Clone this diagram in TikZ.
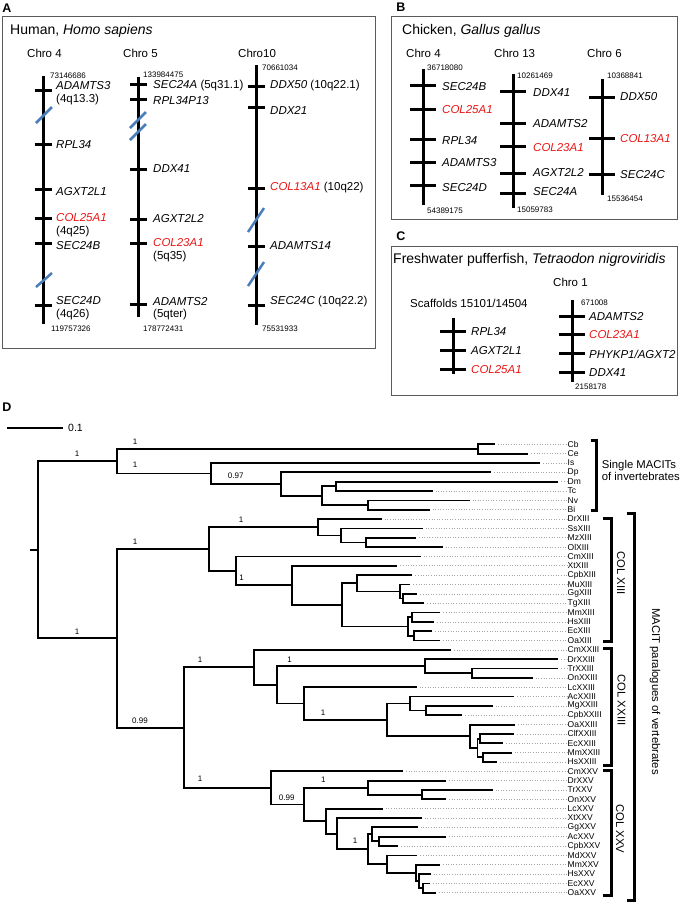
\documentclass[tikz,border=0pt]{standalone}
\usepackage{fontspec}
\setmainfont{Liberation Sans}
\definecolor{slashblue}{RGB}{74,126,187}
\definecolor{boxgray}{RGB}{90,90,90}
\definecolor{genered}{RGB}{235,20,20}
\newcommand\Tk[3]{\draw[tk] (#1-#3,#2) -- (#1+#3,#2);}
\newcommand\Tip[4]{\coordinate (#1) at (#2,#3); \node[taxon] (l#1) at (567.5,#3) {#4}; \draw[lead] ([xshift=3pt]#1) -- (l#1.west);}
\newcommand\Ed[2]{\draw[br] (#1) |- (#2);}
\begin{document}
\begin{tikzpicture}[x=1pt,y=-1pt,
  gene/.style={anchor=west, inner sep=0, font=\fontsize{11.5}{13}\selectfont\itshape},
  band/.style={anchor=west, inner sep=0, font=\fontsize{11.5}{13}\selectfont},
  num/.style={anchor=west, inner sep=0, font=\fontsize{8}{9}\selectfont},
  chrt/.style={anchor=west, inner sep=0, font=\fontsize{11.5}{13}\selectfont},
  ttl/.style={anchor=west, inner sep=0, font=\fontsize{14}{16}\selectfont},
  panel/.style={inner sep=0, font=\fontsize{12.5}{14}\selectfont\bfseries},
  chrom/.style={line width=3pt},
  tk/.style={line width=3pt},
  slash/.style={line width=2.5pt, draw=slashblue},
  box/.style={draw=boxgray, line width=1pt},
  br/.style={line width=1.8pt},
  lead/.style={draw=gray!70, dotted, line width=0.6pt},
  taxon/.style={anchor=west, inner sep=0, font=\fontsize{8.5}{9}\selectfont},
  bs/.style={inner sep=0, font=\fontsize{8}{9}\selectfont},
  brk/.style={line width=3pt},
  grp/.style={inner sep=0, font=\fontsize{11.3}{12.4}\selectfont}
]
\useasboundingbox (0,0) rectangle (685,908);

% ================= Panel A =================
\node[panel] (pA) at (7,8) {A};
\draw[box] (2,16) rectangle (375,348);
\node[ttl] (tA) at (10,31) {Human, \textit{Homo sapiens}};
\node[chrt] (c4) at (27,53) {Chro 4};
\node[chrt] (c5) at (123,53) {Chro 5};
\node[chrt] (c10) at (238,53) {Chro10};
% Chro 4
\draw[chrom] (43,76) -- (43,324);
\node[num] at (50,76) {73146686};
\Tk{43}{90}{8.5}  \node[gene] at (56,86) {ADAMTS3}; \node[band] at (56,100) {(4q13.3)};
\draw[slash] (36,123) -- (52,107);
\Tk{43}{144}{8.5} \node[gene] at (56,145) {RPL34};
\Tk{43}{189}{8.5} \node[gene] at (56,192) {AGXT2L1};
\Tk{43}{218}{8.5} \node[gene,text=genered] at (56,218) {COL25A1}; \node[band] at (56,232) {(4q25)};
\Tk{43}{243}{8.5} \node[gene] at (56,246) {SEC24B};
\draw[slash] (36,287) -- (52,273);
\Tk{43}{305}{8.5} \node[gene] at (56,301) {SEC24D}; \node[band] at (56,315) {(4q26)};
\node[num] at (51,329) {119757326};
% Chro 5
\draw[chrom] (138,77) -- (138,317);
\node[num] at (143,75) {133984475};
\Tk{138}{84}{8.5} \node[gene] at (153,86) {SEC24A\upshape{} (5q31.1)};
\Tk{138}{99}{8.5} \node[gene] at (153,101) {RPL34P13};
\draw[slash] (130,128) -- (146,112);
\draw[slash] (130,140) -- (146,124);
\Tk{138}{169}{8.5} \node[gene] at (153,169) {DDX41};
\Tk{138}{219}{8.5} \node[gene] at (153,219) {AGXT2L2};
\Tk{138}{243}{8.5} \node[gene,text=genered] at (153,243) {COL23A1}; \node[band] at (153,257) {(5q35)};
\Tk{138}{304}{8.5} \node[gene] at (153,302) {ADAMTS2}; \node[band] at (153,315) {(5qter)};
\node[num] at (143,329) {178772431};
% Chro 10
\draw[chrom] (256,65) -- (256,325);
\node[num] at (262,68) {70661034};
\Tk{256}{86}{8.5} \node[gene] at (270,86) {DDX50\upshape{} (10q22.1)};
\Tk{256}{107}{8.5} \node[gene] at (270,110) {DDX21};
\Tk{256}{188}{8.5} \node[gene] at (270,188) {\textcolor{genered}{COL13A1}\upshape{} (10q22)};
\draw[slash] (248,232) -- (264,208);
\Tk{256}{246}{8.5} \node[gene] at (270,246) {ADAMTS14};
\draw[slash] (248,286) -- (264,262);
\Tk{256}{305}{8.5} \node[gene] at (270,302) {SEC24C\upshape{} (10q22.2)};
\node[num] at (262,329) {75531933};

% ================= Panel B =================
\node[panel] (pB) at (401,7) {B};
\draw[box] (391,16) rectangle (677,219);
\node[ttl] (tB) at (402,31) {Chicken, \textit{Gallus gallus}};
\node[chrt] (b4) at (406,53) {Chro 4};
\node[chrt] (b13) at (494,53) {Chro 13};
\node[chrt] (b6) at (587,53) {Chro 6};
% Chr 4
\draw[chrom] (423,69) -- (423,205);
\node[num] at (427,68) {36718080};
\Tk{423}{85}{13}  \node[gene] at (442,87) {SEC24B};
\Tk{423}{109}{13} \node[gene,text=genered] at (442,110) {COL25A1};
\Tk{423}{139}{13} \node[gene] at (442,141) {RPL34};
\Tk{423}{162}{13} \node[gene] at (442,163) {ADAMTS3};
\Tk{423}{185}{13} \node[gene] at (442,188) {SEC24D};
\node[num] at (427,211) {54389175};
% Chr 13
\draw[chrom] (513,74) -- (513,208);
\node[num] at (517,76) {10261469};
\Tk{513}{91}{13}  \node[gene] at (533,93) {DDX41};
\Tk{513}{123}{13} \node[gene] at (533,124) {ADAMTS2};
\Tk{513}{146}{13} \node[gene,text=genered] at (533,148) {COL23A1};
\Tk{513}{173}{13} \node[gene] at (533,173) {AGXT2L2};
\Tk{513}{193}{13} \node[gene] at (533,192) {SEC24A};
\node[num] at (517,210) {15059783};
% Chr 6
\draw[chrom] (602,79) -- (602,195);
\node[num] at (607,76) {10368841};
\Tk{602}{97}{13}  \node[gene] at (620,97) {DDX50};
\Tk{602}{138}{13} \node[gene,text=genered] at (620,139) {COL13A1};
\Tk{602}{174}{13} \node[gene] at (620,175) {SEC24C};
\node[num] at (607,199) {15536454};

% ================= Panel C =================
\node[panel] (pC) at (401,236) {C};
\draw[box] (391,246) rectangle (677,395);
\node[ttl] (tC) at (393,260) {Freshwater pufferfish, \textit{Tetraodon nigroviridis}};
\node[chrt] (c1) at (553,282) {Chro 1};
\node[chrt] (scf) at (410,303) {Scaffolds 15101/14504};
% scaffold
\draw[chrom] (453,318) -- (453,374);
\Tk{453}{331}{13} \node[gene] at (471,332) {RPL34};
\Tk{453}{350}{13} \node[gene] at (471,351) {AGXT2L1};
\Tk{453}{369}{13} \node[gene,text=genered] at (471,370) {COL25A1};
% chro 1
\draw[chrom] (572,300) -- (572,382);
\node[num] at (581,303) {671008};
\Tk{572}{316}{13} \node[gene] at (589,317) {ADAMTS2};
\Tk{572}{334}{13} \node[gene,text=genered] at (589,335) {COL23A1};
\Tk{572}{353}{13} \node[gene] at (589,354) {PHYKP1/AGXT2};
\Tk{572}{372}{13} \node[gene] at (589,373) {DDX41};
\node[num] at (575,387) {2158178};

% ================= Panel D =================
\node[panel] (pD) at (7,407) {D};
\coordinate (sb1) at (7,428); \coordinate (sb2) at (63,428);
\draw[line width=1.5pt] (sb1) -- (sb2);
\node[inner sep=0, anchor=west, font=\fontsize{10.5}{12}\selectfont] (sbl) at (68,428) {0.1};

% tips
\Tip{Cb}{495}{444.3}{Cb}
\Tip{Ce}{528.3}{453.6}{Ce}
\Tip{Is}{540}{463.0}{Is}
\Tip{Dp}{491}{472.3}{Dp}
\Tip{Dm}{558.3}{481.7}{Dm}
\Tip{Tc}{432.5}{491.0}{Tc}
\Tip{Nv}{469.5}{500.4}{Nv}
\Tip{Bi}{429.5}{509.7}{Bi}
\Tip{DrXIII}{381.7}{519.0}{DrXIII}
\Tip{SsXIII}{422.5}{528.4}{SsXIII}
\Tip{MzXIII}{416}{537.7}{MzXIII}
\Tip{OlXIII}{442.7}{547.1}{OlXIII}
\Tip{CmXIII}{420.5}{556.4}{CmXIII}
\Tip{XtXIII}{397.3}{565.7}{XtXIII}
\Tip{CpbXIII}{412.3}{575.1}{CpbXIII}
\Tip{MuXIII}{410.3}{584.4}{MuXIII}
\Tip{GgXIII}{417.3}{593.8}{GgXIII}
\Tip{TgXIII}{424.3}{603.1}{TgXIII}
\Tip{MmXIII}{440.3}{612.5}{MmXIII}
\Tip{HsXIII}{434.2}{621.8}{HsXIII}
\Tip{EcXIII}{432}{631.1}{EcXIII}
\Tip{OaXIII}{440}{640.5}{OaXIII}
\Tip{CmXXIII}{451}{649.8}{CmXXIII}
\Tip{DrXXIII}{558.3}{659.2}{DrXXIII}
\Tip{TrXXIII}{558.3}{668.5}{TrXXIII}
\Tip{OnXXIII}{532.7}{677.9}{OnXXIII}
\Tip{LcXXIII}{416.7}{687.2}{LcXXIII}
\Tip{AcXXIII}{514.3}{696.5}{AcXXIII}
\Tip{MgXXIII}{492.7}{705.9}{MgXXIII}
\Tip{CpbXXIII}{462.3}{715.2}{CpbXXIII}
\Tip{OaXXIII}{515}{724.6}{OaXXIII}
\Tip{ClfXXIII}{514}{733.9}{ClfXXIII}
\Tip{EcXXIII}{503}{743.3}{EcXXIII}
\Tip{MmXXIII}{511.7}{752.6}{MmXXIII}
\Tip{HsXXIII}{497}{761.9}{HsXXIII}
\Tip{CmXXV}{403}{771.3}{CmXXV}
\Tip{DrXXV}{446}{780.6}{DrXXV}
\Tip{TrXXV}{492.5}{790.0}{TrXXV}
\Tip{OnXXV}{446}{799.3}{OnXXV}
\Tip{LcXXV}{382.7}{808.7}{LcXXV}
\Tip{XtXXV}{421.7}{818.0}{XtXXV}
\Tip{GgXXV}{417.5}{827.3}{GgXXV}
\Tip{AcXXV}{446}{836.7}{AcXXV}
\Tip{CpbXXV}{398.3}{846.0}{CpbXXV}
\Tip{MdXXV}{417.3}{855.4}{MdXXV}
\Tip{MmXXV}{440}{864.7}{MmXXV}
\Tip{HsXXV}{430.7}{874.1}{HsXXV}
\Tip{EcXXV}{430}{883.4}{EcXXV}
\Tip{OaXXV}{436}{892.7}{OaXXV}

% internal nodes
\coordinate (root) at (38,549.8);
\coordinate (rootstub) at (30,549.8);
\coordinate (nInv) at (116.7,461.25);
\coordinate (nCbCe) at (477.7,449);
\coordinate (nIs) at (211.3,473.5);
\coordinate (nDp) at (281,484);
\coordinate (nDmBi) at (321.7,495.7);
\coordinate (nDmTc) at (335.7,486.35);
\coordinate (nNvBi) at (367.7,505.05);
\coordinate (nVert) at (116.7,638.3);
\coordinate (n13) at (209.3,549.0);
\coordinate (nDr13) at (317.7,527.2);
\coordinate (nSs) at (340.7,535.4);
\coordinate (nMzOl) at (366,542.4);
\coordinate (nCm13) at (235.7,570.85);
\coordinate (nXt13) at (292,585.3);
\coordinate (nAmn13) at (341.7,604.9);
\coordinate (nCpb13) at (356.7,583.25);
\coordinate (nMu) at (400,591.4);
\coordinate (nGgTg) at (402.7,598.45);
\coordinate (nMam13) at (407.7,626.5);
\coordinate (nMmHs13) at (412.3,617.15);
\coordinate (nEcOa13) at (414.3,635.8);
\coordinate (n2325) at (184.3,727.6);
\coordinate (n23) at (254,667.35);
\coordinate (nFish23) at (277.3,684.9);
\coordinate (nDr23) at (425,666.2);
\coordinate (nTrOn23) at (471.7,673.2);
\coordinate (nLc23) at (304.3,703.55);
\coordinate (nAmn23) at (387.3,719.9);
\coordinate (nAc23) at (410,703.5);
\coordinate (nMgCpb23) at (425.7,710.55);
\coordinate (nOa23) at (470,736.25);
\coordinate (nMam23) at (477.5,747.9);
\coordinate (nClfEc23) at (480,738.6);
\coordinate (nMmHs23) at (482.7,757.25);
\coordinate (n25) at (270.7,787.85);
\coordinate (nFish25) at (304.3,804.4);
\coordinate (nDr25) at (367.7,787.6);
\coordinate (nTrOn25) at (422.3,794.65);
\coordinate (nLc25) at (325.7,821.15);
\coordinate (nXt25) at (336.7,833.6);
\coordinate (nAmn25) at (368.3,849.2);
\coordinate (nGg25) at (371.7,834.3);
\coordinate (nAcCpb25) at (379.3,841.35);
\coordinate (nMd25) at (387.3,864.15);
\coordinate (nMm25) at (415.7,872.9);
\coordinate (nHs25) at (419.3,881.1);
\coordinate (nEcOa25) at (423.3,888.05);

% edges
\draw[br] (root) -- (rootstub);
\Ed{root}{nInv} \Ed{root}{nVert}
\Ed{nInv}{nCbCe} \Ed{nInv}{nIs}
\Ed{nCbCe}{Cb} \Ed{nCbCe}{Ce}
\Ed{nIs}{Is} \Ed{nIs}{nDp}
\Ed{nDp}{Dp} \Ed{nDp}{nDmBi}
\Ed{nDmBi}{nDmTc} \Ed{nDmBi}{nNvBi}
\Ed{nDmTc}{Dm} \Ed{nDmTc}{Tc}
\Ed{nNvBi}{Nv} \Ed{nNvBi}{Bi}
\Ed{nVert}{n13} \Ed{nVert}{n2325}
\Ed{n13}{nDr13} \Ed{n13}{nCm13}
\Ed{nDr13}{DrXIII} \Ed{nDr13}{nSs}
\Ed{nSs}{SsXIII} \Ed{nSs}{nMzOl}
\Ed{nMzOl}{MzXIII} \Ed{nMzOl}{OlXIII}
\Ed{nCm13}{CmXIII} \Ed{nCm13}{nXt13}
\Ed{nXt13}{XtXIII} \Ed{nXt13}{nAmn13}
\Ed{nAmn13}{nCpb13} \Ed{nAmn13}{nMam13}
\Ed{nCpb13}{CpbXIII} \Ed{nCpb13}{nMu}
\Ed{nMu}{MuXIII} \Ed{nMu}{nGgTg}
\Ed{nGgTg}{GgXIII} \Ed{nGgTg}{TgXIII}
\Ed{nMam13}{nMmHs13} \Ed{nMam13}{nEcOa13}
\Ed{nMmHs13}{MmXIII} \Ed{nMmHs13}{HsXIII}
\Ed{nEcOa13}{EcXIII} \Ed{nEcOa13}{OaXIII}
\Ed{n2325}{n23} \Ed{n2325}{n25}
\Ed{n23}{CmXXIII} \Ed{n23}{nFish23}
\Ed{nFish23}{nDr23} \Ed{nFish23}{nLc23}
\Ed{nDr23}{DrXXIII} \Ed{nDr23}{nTrOn23}
\Ed{nTrOn23}{TrXXIII} \Ed{nTrOn23}{OnXXIII}
\Ed{nLc23}{LcXXIII} \Ed{nLc23}{nAmn23}
\Ed{nAmn23}{nAc23} \Ed{nAmn23}{nOa23}
\Ed{nAc23}{AcXXIII} \Ed{nAc23}{nMgCpb23}
\Ed{nMgCpb23}{MgXXIII} \Ed{nMgCpb23}{CpbXXIII}
\Ed{nOa23}{OaXXIII} \Ed{nOa23}{nMam23}
\Ed{nMam23}{nClfEc23} \Ed{nMam23}{nMmHs23}
\Ed{nClfEc23}{ClfXXIII} \Ed{nClfEc23}{EcXXIII}
\Ed{nMmHs23}{MmXXIII} \Ed{nMmHs23}{HsXXIII}
\Ed{n25}{CmXXV} \Ed{n25}{nFish25}
\Ed{nFish25}{nDr25} \Ed{nFish25}{nLc25}
\Ed{nDr25}{DrXXV} \Ed{nDr25}{nTrOn25}
\Ed{nTrOn25}{TrXXV} \Ed{nTrOn25}{OnXXV}
\Ed{nLc25}{LcXXV} \Ed{nLc25}{nXt25}
\Ed{nXt25}{XtXXV} \Ed{nXt25}{nAmn25}
\Ed{nAmn25}{nGg25} \Ed{nAmn25}{nMd25}
\Ed{nGg25}{GgXXV} \Ed{nGg25}{nAcCpb25}
\Ed{nAcCpb25}{AcXXV} \Ed{nAcCpb25}{CpbXXV}
\Ed{nMd25}{MdXXV} \Ed{nMd25}{nMm25}
\Ed{nMm25}{MmXXV} \Ed{nMm25}{nHs25}
\Ed{nHs25}{HsXXV} \Ed{nHs25}{nEcOa25}
\Ed{nEcOa25}{EcXXV} \Ed{nEcOa25}{OaXXV}

% support values
\node[bs] at (77,454) {1};
\node[bs] at (135,441.7) {1};
\node[bs] at (135,465) {1};
\node[bs] at (235.7,476) {0.97};
\node[bs] at (77,631.7) {1};
\node[bs] at (135,541.7) {1};
\node[bs] at (241,519.3) {1};
\node[bs] at (241.5,577.5) {1};
\node[bs] at (140,720.7) {0.99};
\node[bs] at (200,659.7) {1};
\node[bs] at (289.5,659.5) {1};
\node[bs] at (323,713) {1};
\node[bs] at (200,778.3) {1};
\node[bs] at (286.7,797.7) {0.99};
\node[bs] at (323.3,780) {1};
\node[bs] at (355,841) {1};

% brackets
\draw[brk] (590.7,440) -- (596.7,440) -- (596.7,510) -- (590.7,510);
\node[grp, anchor=west, align=left] (ginv) at (601.7,470.5) {Single MACITs\\of invertebrates};
\draw[brk] (603,518.3) -- (611.7,518.3) -- (611.7,641.7) -- (603,641.7);
\node[grp, rotate=-90] (g13) at (621,573) {COL XIII};
\draw[brk] (603,648.3) -- (611.7,648.3) -- (611.7,765) -- (603,765);
\node[grp, rotate=-90] (g23) at (621.5,700) {COL XXIII};
\draw[brk] (603,770) -- (611.7,770) -- (611.7,895) -- (603,895);
\node[grp, rotate=-90] (g25) at (620,829) {COL XXV};
\draw[brk] (626.7,513.3) -- (634,513.3) -- (634,900) -- (626.7,900);
\node[grp, rotate=-90] (gv) at (655,691.5) {MACIT paralogues of vertebrates};
\end{tikzpicture}
\end{document}
